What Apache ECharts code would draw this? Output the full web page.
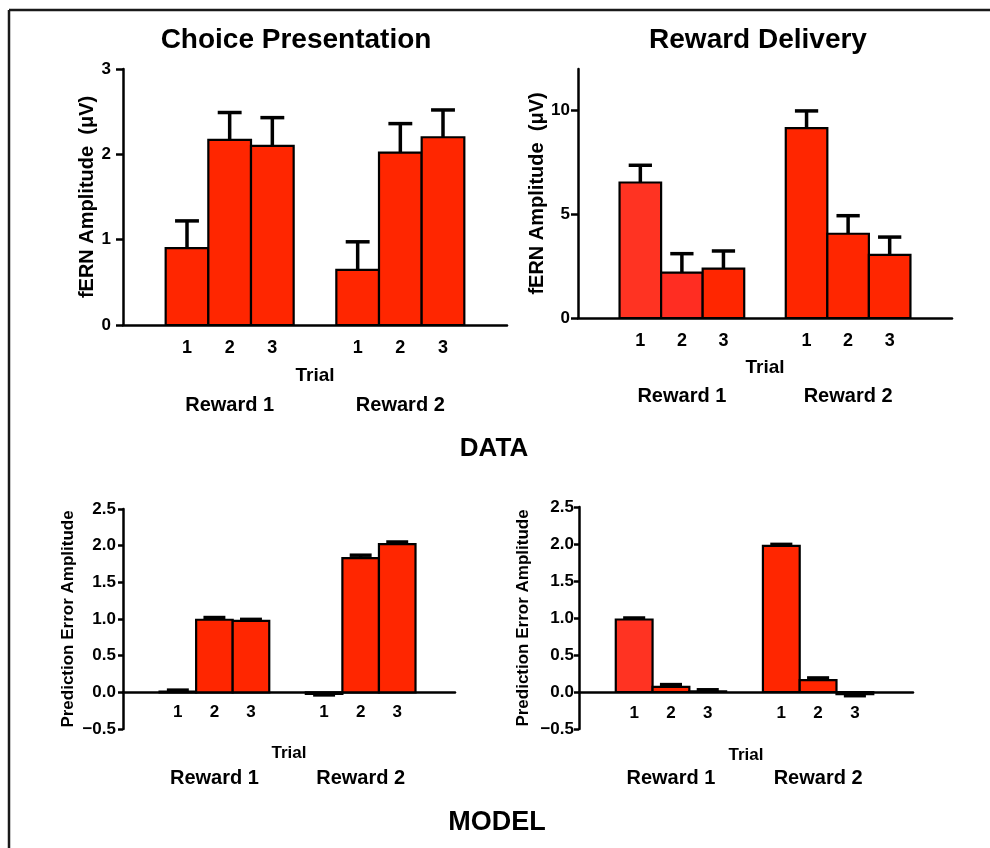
<!DOCTYPE html>
<html>
<head>
<meta charset="utf-8">
<script src="https://cdn.jsdelivr.net/npm/echarts@6/dist/echarts.min.js"></script>
<style>
  html, body { margin: 0; padding: 0; background: #fff; }
  #main { width: 990px; height: 848px; }
</style>
</head>
<body>
<div id="main"></div>
<script>
// slot positions of the bars on the x axis (gap slots at 0 and 4)
var slots = [1, 2, 3, 5, 6, 7];
var trialLabels = ['1', '2', '3', '1', '2', '3'];
var groupSlots = [2, 6];
var groupLabels = ['Reward 1', 'Reward 2'];

// DATA: fERN amplitude (uV), mean and SEM
var choiceMean = [0.90, 2.17, 2.10, 0.645, 2.02, 2.20];
var choiceSem = [0.32, 0.32, 0.33, 0.33, 0.34, 0.32];
var rewardMean = [6.53, 2.19, 2.38, 9.15, 4.06, 3.04];
var rewardSem = [0.83, 0.91, 0.85, 0.83, 0.87, 0.86];

// MODEL: prediction error amplitude, mean and SEM
var modelChoiceMean = [0.01, 0.99, 0.975, -0.02, 1.83, 2.02];
var modelChoiceSem = [0.02, 0.03, 0.02, 0.015, 0.04, 0.03];
var modelRewardMean = [0.98, 0.07, 0.01, 1.975, 0.16, -0.03];
var modelRewardSem = [0.02, 0.03, 0.02, 0.02, 0.03, 0.02];

var FONT = '"Liberation Sans", Arial, sans-serif';
var RED = '#ff2600';
var RED_LIGHT = '#ff3322';

function toSeriesData(mean, sem) {
	var out = [];
	for (var i = 0; i < slots.length; i++) {
		out.push([slots[i], mean[i], sem[i]]);
	}
	return out;
}

function makeRender(colors, capHalf) {
	return function (params, api) {
		var x = api.value(0), m = api.value(1), s = api.value(2);
		var e = m >= 0 ? m + s : m - s;
		var p0 = api.coord([x - 0.5, 0]);
		var p1 = api.coord([x + 0.5, m]);
		var top = api.coord([x, m]);
		var tip = api.coord([x, e]);
		var cl = api.coord([x - capHalf, e]);
		var cr = api.coord([x + capHalf, e]);
		return {
			type: 'group',
			children: [
				{type: 'line', shape: {x1: top[0], y1: top[1], x2: tip[0], y2: tip[1]}, style: {stroke: '#000', lineWidth: 3.5}},
				{type: 'line', shape: {x1: cl[0], y1: cl[1], x2: cr[0], y2: cr[1]}, style: {stroke: '#000', lineWidth: 3.5}},
				{type: 'rect', shape: {x: p0[0], y: Math.min(p0[1], p1[1]), width: p1[0] - p0[0], height: Math.abs(p1[1] - p0[1])},
					style: {fill: colors[params.dataIndex], stroke: '#000', lineWidth: 2.2}}
			]
		};
	};
}

function trialFmt(v) {
	var i = slots.indexOf(Math.round(v));
	return i >= 0 ? trialLabels[i] : '';
}
function groupFmt(v) {
	var i = groupSlots.indexOf(Math.round(v));
	return i >= 0 ? groupLabels[i] : '';
}
function decFmt(v) {
	return v.toFixed(1).replace('-', '\u2212');
}

// one panel = grid + 2 x axes + 1 y axis + custom series
// x label margins are measured from the grid bottom
var panels = [
	{grid: {left: 123, top: 69, width: 384, height: 256}, xmax: 8.5,
	 y: {min: 0, max: 3, interval: 1, fmt: null, name: 'fERN Amplitude  (\u03bcV)', nameSize: 20, nameGap: 24, labSize: 17, margin: 12, tick: 7},
	 xs: {labSize: 18, margin: 14, trialSize: 19, trialGap: 41, groupMargin: 70},
	 mean: choiceMean, sem: choiceSem, colors: [RED, RED, RED, RED, RED, RED], cap: 0.28},
	{grid: {left: 578, top: 69, width: 374, height: 249}, xmax: 8.5,
	 y: {min: 0, max: 12, custom: [0, 5, 10], fmt: null, name: 'fERN Amplitude  (\u03bcV)', nameSize: 20, nameGap: 27, labSize: 17, margin: 8, tick: 7},
	 xs: {labSize: 18, margin: 14, trialSize: 19, trialGap: 40, groupMargin: 68},
	 mean: rewardMean, sem: rewardSem, colors: [RED_LIGHT, '#ff2d22', RED, RED, RED, RED], cap: 0.28},
	{grid: {left: 123, top: 509, width: 332, height: 220}, xmax: 8.58,
	 y: {min: -0.5, max: 2.5, interval: 0.5, fmt: decFmt, name: 'Prediction Error Amplitude', nameSize: 17, nameGap: 46, labSize: 17, margin: 7, tick: 5},
	 xs: {labSize: 17, margin: -25, trialSize: 17, trialGap: 16, groupMargin: 39},
	 mean: modelChoiceMean, sem: modelChoiceSem, colors: [RED, RED, RED, RED, RED, RED], cap: 0.3},
	{grid: {left: 579, top: 507, width: 334, height: 222}, xmax: 8.58,
	 y: {min: -0.5, max: 2.5, interval: 0.5, fmt: decFmt, name: 'Prediction Error Amplitude', nameSize: 17, nameGap: 47, labSize: 17, margin: 5, tick: 5},
	 xs: {labSize: 17, margin: -24, trialSize: 17, trialGap: 18, groupMargin: 39},
	 mean: modelRewardMean, sem: modelRewardSem, colors: [RED_LIGHT, RED, RED, RED, RED, RED], cap: 0.3}
];

var grids = [], xAxes = [], yAxes = [], series = [];
panels.forEach(function (p, k) {
	grids.push(p.grid);
	xAxes.push({
		type: 'value', gridIndex: k, min: -0.5, max: p.xmax,
		splitLine: {show: false},
		axisLine: {onZero: true, lineStyle: {color: '#000', width: 2.5}},
		axisTick: {show: false},
		axisLabel: {customValues: slots, formatter: trialFmt, color: '#000', fontFamily: FONT, fontWeight: 'bold', fontSize: p.xs.labSize, margin: p.xs.margin},
		name: 'Trial', nameLocation: 'middle', nameGap: p.xs.trialGap,
		nameTextStyle: {color: '#000', fontFamily: FONT, fontWeight: 'bold', fontSize: p.xs.trialSize}
	});
	xAxes.push({
		type: 'value', gridIndex: k, min: -0.5, max: p.xmax, position: 'bottom',
		splitLine: {show: false},
		axisLine: {show: false, onZero: false},
		axisTick: {show: false},
		axisLabel: {customValues: groupSlots, formatter: groupFmt, color: '#000', fontFamily: FONT, fontWeight: 'bold', fontSize: 20, margin: p.xs.groupMargin}
	});
	var ya = {
		type: 'value', gridIndex: k, min: p.y.min, max: p.y.max,
		splitLine: {show: false},
		axisLine: {show: true, onZero: false, lineStyle: {color: '#000', width: 2.5}},
		axisTick: {show: true, length: p.y.tick, lineStyle: {color: '#000', width: 2.5}},
		axisLabel: {color: '#000', fontFamily: FONT, fontWeight: 'bold', fontSize: p.y.labSize, margin: p.y.margin},
		name: p.y.name, nameLocation: 'middle', nameRotate: 90, nameGap: p.y.nameGap,
		nameTextStyle: {color: '#000', fontFamily: FONT, fontWeight: 'bold', fontSize: p.y.nameSize}
	};
	if (p.y.interval) ya.interval = p.y.interval;
	if (p.y.custom) {
		ya.axisLabel.customValues = p.y.custom;
		ya.axisTick.customValues = p.y.custom;
	}
	if (p.y.fmt) ya.axisLabel.formatter = p.y.fmt;
	yAxes.push(ya);
	series.push({
		type: 'custom', xAxisIndex: k * 2, yAxisIndex: k,
		renderItem: makeRender(p.colors, p.cap),
		data: toSeriesData(p.mean, p.sem),
		clip: false, silent: true
	});
});

var chart = echarts.init(document.getElementById('main'));
chart.setOption({
	animation: false,
	backgroundColor: '#fff',
	grid: grids,
	xAxis: xAxes,
	yAxis: yAxes,
	series: series,
	graphic: [
		{type: 'line', shape: {x1: 9, y1: 10, x2: 990, y2: 10}, style: {stroke: '#1a1a1a', lineWidth: 2.5}},
		{type: 'line', shape: {x1: 9, y1: 10, x2: 9, y2: 848}, style: {stroke: '#1a1a1a', lineWidth: 2.5}},
		{type: 'text', x: 296, y: 40, style: {text: 'Choice Presentation', align: 'center', verticalAlign: 'middle', fill: '#000', font: 'bold 28px ' + FONT}},
		{type: 'text', x: 758, y: 40, style: {text: 'Reward Delivery', align: 'center', verticalAlign: 'middle', fill: '#000', font: 'bold 28px ' + FONT}},
		{type: 'text', x: 494, y: 449, style: {text: 'DATA', align: 'center', verticalAlign: 'middle', fill: '#000', font: 'bold 26px ' + FONT}},
		{type: 'text', x: 497, y: 823, style: {text: 'MODEL', align: 'center', verticalAlign: 'middle', fill: '#000', font: 'bold 27px ' + FONT}}
	]
});
</script>
</body>
</html>
